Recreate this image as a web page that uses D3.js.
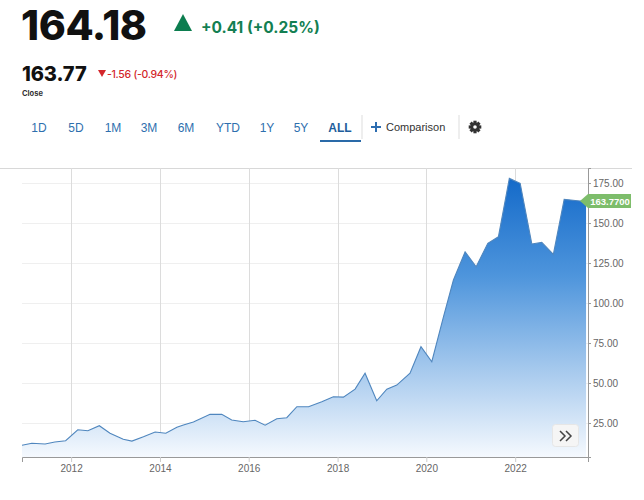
<!DOCTYPE html>
<html>
<head>
<meta charset="utf-8">
<script src="https://cdn.jsdelivr.net/npm/d3@7"></script>
<style>
  body { margin: 0; background: #fff; }
  svg { display: block; }
  .head { font-family: Inter, "Open Sans", sans-serif; }
  .tab { font-family: "Liberation Sans", Arial, sans-serif; font-size: 12px; fill: #2e6fae; }
  .axis text { font-family: "Liberation Sans", Arial, sans-serif; font-size: 10px; fill: #666; }
</style>
</head>
<body>
<svg id="chart" width="644" height="500"></svg>
<script>
// quote header
const lastPrice = "164.18";
const lastChange = "+0.41 (+0.25%)";
const closePrice = "163.77";
const closeChange = "-1.56 (-0.94%)";
const tabs = ["1D", "5D", "1M", "3M", "6M", "YTD", "1Y", "5Y", "ALL"];
const tabX = [39, 76, 113, 149, 186, 228, 267, 301, 340];

// price series
const dates = [
  "2010-11-23", "2011-02-12", "2011-06-01", "2011-08-20", "2011-11-17",
  "2012-02-25", "2012-05-18", "2012-08-20", "2012-11-16", "2013-03-05",
  "2013-05-15", "2013-08-18", "2013-11-22", "2014-02-18", "2014-05-20",
  "2014-07-13", "2014-10-03", "2015-02-17", "2015-05-24", "2015-08-14",
  "2015-11-17", "2016-02-22", "2016-05-15", "2016-08-19", "2016-11-09",
  "2017-01-31", "2017-05-07", "2017-08-24", "2017-11-27", "2018-02-18",
  "2018-05-25", "2018-08-15", "2018-11-19", "2019-02-10", "2019-05-03",
  "2019-08-20", "2019-11-18", "2020-02-15", "2020-05-21", "2020-08-11",
  "2020-11-15", "2021-02-14", "2021-05-21", "2021-08-16", "2021-11-14",
  "2022-02-11", "2022-05-18", "2022-08-08", "2022-11-11", "2023-02-08",
  "2023-06-18", "2023-08-07"
];
const closes = [
  11.1, 12.3, 11.9, 13.1, 13.9,
  20.8, 20.2, 23.3, 18.6, 14.8,
  13.7, 16.4, 19.4, 18.6, 22.3,
  23.7, 25.6, 30.4, 30.4, 26.9,
  25.8, 26.7, 23.6, 27.7, 28.3,
  35.2, 35.2, 38.3, 41.4, 41.2,
  46.2, 56.1, 38.9, 46.1, 48.7,
  56.1, 72.7, 63.3, 91.4, 114.4,
  132.0, 122.7, 137.3, 141.4, 177.9,
  174.8, 136.9, 137.9, 130.4, 164.8,
  163.8, 163.77
];
const yTicks = [25, 50, 75, 100, 125, 150, 175];
const xTickYears = [2012, 2014, 2016, 2018, 2020, 2022];
const lastLabel = "163.7700";

const parse = d3.timeParse("%Y-%m-%d");
const data = dates.map((d, i) => ({ date: parse(d), value: closes[i] }));

const svg = d3.select("#chart");

// ---- header ----
svg.append("text").attr("class", "head")
    .attr("x", 21).attr("y", 40)
    .attr("font-size", 41).attr("font-weight", 800)
    .attr("letter-spacing", -0.4).attr("fill", "#111")
    .text(lastPrice);
svg.append("path")
    .attr("d", "M174,31 L183,14 L192,31 Z")
    .attr("fill", "#0c7d4f");
svg.append("text").attr("class", "head")
    .attr("x", 201).attr("y", 33)
    .attr("font-size", 15.5).attr("font-weight", 700).attr("fill", "#137f52")
    .text(lastChange);

svg.append("text").attr("class", "head")
    .attr("x", 22).attr("y", 81)
    .attr("font-size", 20).attr("font-weight", 800)
    .attr("letter-spacing", -0.1).attr("fill", "#111")
    .text(closePrice);
svg.append("path")
    .attr("d", "M98,70 L106,70 L102,77 Z")
    .attr("fill", "#d3262b");
svg.append("text").attr("class", "head")
    .attr("x", 107).attr("y", 78)
    .attr("font-size", 10.5).attr("font-weight", 500)
    .attr("letter-spacing", -0.3).attr("fill", "#d3262b")
    .text(closeChange);
svg.append("text").attr("class", "head")
    .attr("x", 22).attr("y", 96)
    .attr("font-size", 7.5).attr("font-weight", 700).attr("fill", "#333")
    .text("Close");

// ---- range tabs ----
svg.selectAll(".tab").data(tabs).join("text")
    .attr("class", "tab")
    .attr("x", (d, i) => tabX[i]).attr("y", 132)
    .attr("text-anchor", "middle")
    .attr("font-weight", d => d === "ALL" ? 700 : 400)
    .style("fill", d => d === "ALL" ? "#1e5e9c" : null)
    .text(d => d);
svg.append("rect").attr("x", 320).attr("y", 140).attr("width", 41).attr("height", 2)
    .attr("fill", "#2a6aa8");
svg.append("line").attr("x1", 362).attr("x2", 362).attr("y1", 115).attr("y2", 139)
    .attr("stroke", "#ddd");
svg.append("path").attr("d", "M371,127 H381 M376,122 V132")
    .attr("stroke", "#2d6db0").attr("stroke-width", 2);
svg.append("text").attr("x", 386).attr("y", 131)
    .attr("font-family", "'Liberation Sans', Arial, sans-serif")
    .attr("font-size", 11).attr("fill", "#333").text("Comparison");
svg.append("line").attr("x1", 459).attr("x2", 459).attr("y1", 115).attr("y2", 139)
    .attr("stroke", "#ddd");
// gear icon
const gear = svg.append("g").attr("transform", "translate(475,127)");
gear.selectAll("rect").data(d3.range(8)).join("rect")
    .attr("x", -1.6).attr("y", -6.3).attr("width", 3.2).attr("height", 3.5)
    .attr("transform", d => `rotate(${d * 45})`)
    .attr("fill", "#333");
gear.append("circle").attr("r", 4.6).attr("fill", "#333");
gear.append("circle").attr("r", 1.8).attr("fill", "#fff");

// ---- chart ----
const plotL = 22, plotR = 588, plotT = 168, plotB = 457;

const x = d3.scaleTime()
    .domain([parse("2010-11-23"), parse("2023-08-23")])
    .range([plotL, plotR]);
const y = d3.scaleLinear()
    .domain([3.75, 184.4])
    .range([plotB, plotT]);

const defs = svg.append("defs");
const grad = defs.append("linearGradient")
    .attr("id", "fillGrad")
    .attr("gradientUnits", "userSpaceOnUse")
    .attr("x1", 0).attr("x2", 0).attr("y1", y(178)).attr("y2", plotB);
grad.append("stop").attr("offset", 0).attr("stop-color", "#146ac9");
grad.append("stop").attr("offset", 0.35).attr("stop-color", "#4e95dc");
grad.append("stop").attr("offset", 0.7).attr("stop-color", "#a9cbee");
grad.append("stop").attr("offset", 1).attr("stop-color", "#f5f9fe");

// top border
svg.append("line").attr("x1", 0).attr("x2", 632).attr("y1", plotT + 0.5).attr("y2", plotT + 0.5)
    .attr("stroke", "#d8d8d8");

// horizontal grid
svg.append("g").selectAll("line").data(yTicks).join("line")
    .attr("x1", plotL).attr("x2", plotR)
    .attr("y1", d => Math.round(y(d)) + 0.5).attr("y2", d => Math.round(y(d)) + 0.5)
    .attr("stroke", "#efefef");

// vertical grid
const yearDates = xTickYears.map(yr => new Date(yr, 0, 1));
svg.append("g").selectAll("line").data(yearDates).join("line")
    .attr("x1", d => Math.round(x(d)) + 0.5).attr("x2", d => Math.round(x(d)) + 0.5)
    .attr("y1", plotT).attr("y2", plotB)
    .attr("stroke", "#dcdcdc");

const area = d3.area()
    .x(d => x(d.date))
    .y0(plotB)
    .y1(d => y(d.value));
const line = d3.line()
    .x(d => x(d.date))
    .y(d => y(d.value));

svg.append("path").datum(data)
    .attr("d", area)
    .attr("fill", "url(#fillGrad)");
svg.append("path").datum(data)
    .attr("d", line)
    .attr("fill", "none")
    .attr("stroke", "#4f86be")
    .attr("stroke-width", 1.1);

// axes
const xAxis = svg.append("g").attr("class", "axis")
    .attr("transform", `translate(0,${plotB})`)
    .call(d3.axisBottom(x).tickValues(yearDates).tickFormat(d3.timeFormat("%Y"))
        .tickSize(5).tickPadding(3));
xAxis.select(".domain").attr("stroke", "#999");
xAxis.selectAll(".tick line").attr("stroke", "#ccc");

const yAxis = svg.append("g").attr("class", "axis")
    .attr("transform", `translate(${plotR},0)`)
    .call(d3.axisRight(y).tickValues(yTicks).tickFormat(d3.format(".2f"))
        .tickSize(3).tickPadding(2));
yAxis.select(".domain").attr("stroke", "#999");
yAxis.selectAll(".tick line").attr("stroke", "#999");

// last value tag
const lastY = y(closes[closes.length - 1]);
svg.append("path")
    .attr("d", `M580,${lastY} L588,${lastY - 7} H631 V${lastY + 7} H588 Z`)
    .attr("fill", "#7dbd6b");
svg.append("text")
    .attr("x", 610).attr("y", lastY + 3.5)
    .attr("text-anchor", "middle")
    .attr("font-family", "'Liberation Sans', Arial, sans-serif")
    .attr("font-size", 9.5).attr("font-weight", 700).attr("fill", "#fff")
    .text(lastLabel);

// scroll button
svg.append("rect")
    .attr("x", 552.5).attr("y", 424.5).attr("width", 26).attr("height", 22).attr("rx", 3)
    .attr("fill", "#f5f5f5").attr("stroke", "#e6e6e6");
svg.append("path")
    .attr("d", "M560,431 L565,436 L560,441 M566,431 L571,436 L566,441")
    .attr("fill", "none").attr("stroke", "#444").attr("stroke-width", 1.5);
</script>
</body>
</html>
